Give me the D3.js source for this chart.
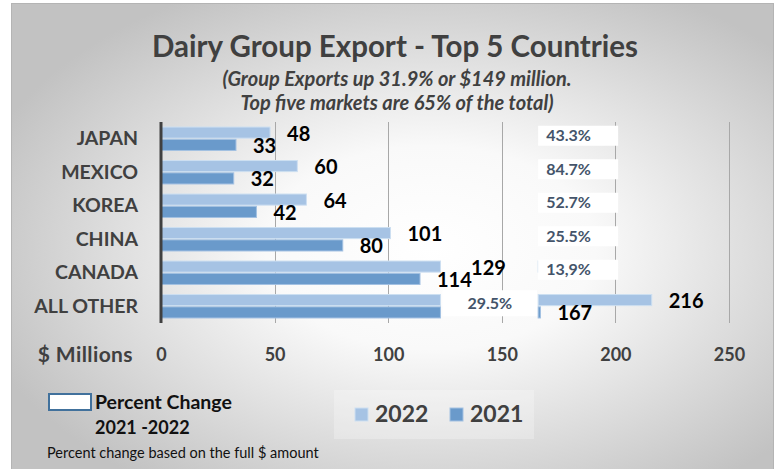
<!DOCTYPE html>
<html>
<head>
<meta charset="utf-8">
<script src="https://cdn.jsdelivr.net/npm/d3@7/dist/d3.min.js"></script>
<style>
  html, body { margin: 0; padding: 0; background: #ffffff; }
  svg { display: block; font-family: Lato, "Open Sans", sans-serif; }
</style>
</head>
<body>
<svg id="chart" width="775" height="469"></svg>
<script>
// Chart values.
const categories  = [ 'JAPAN', 'MEXICO', 'KOREA', 'CHINA', 'CANADA', 'ALL OTHER' ];
const values2022  = [ 48, 60, 64, 101, 129, 216 ];
const values2021  = [ 33, 32, 42, 80, 114, 167 ];
const pctChange   = [ '43.3%', '84.7%', '52.7%', '25.5%', '13,9%', '29.5%' ];
const seriesNames = [ '2022', '2021' ];
const xTicks      = [ 0, 50, 100, 150, 200, 250 ];

// Broken bars: the stretch between these two values is left out.
const BREAK_FROM = 123;
const BREAK_TO   = 166;

const colors = { '2022': '#a6c3e4', '2021': '#6a9acb' };
const strokes = { '2022': '#cddff1', '2021': '#a3c1e2' };
const textDark = '#404040';

const svg = d3.select( '#chart' );

// Background with a soft radial gradient.
const defs = svg.append( 'defs' );
const grad = defs.append( 'radialGradient' )
  .attr( 'id', 'bg' )
  .attr( 'cx', '55%' ).attr( 'cy', '52%' ).attr( 'r', '62%' );
grad.append( 'stop' ).attr( 'offset', '0%'   ).attr( 'stop-color', '#ffffff' );
grad.append( 'stop' ).attr( 'offset', '35%'  ).attr( 'stop-color', '#f9f9f9' );
grad.append( 'stop' ).attr( 'offset', '100%' ).attr( 'stop-color', '#c2c2c2' );

svg.append( 'rect' )
  .attr( 'x', 11.5 ).attr( 'y', 3.5 )
  .attr( 'width', 762 ).attr( 'height', 470 )
  .attr( 'fill', 'url(#bg)' )
  .attr( 'stroke', '#b4b4b4' );

// Title and subtitle.
svg.append( 'text' )
  .attr( 'x', 395 ).attr( 'y', 57 )
  .attr( 'text-anchor', 'middle' )
  .attr( 'fill', textDark )
  .style( 'font-size', '29.5px' ).style( 'font-weight', 700 )
  .text( 'Dairy Group Export - Top 5 Countries' );

svg.append( 'text' )
  .attr( 'x', 397 ).attr( 'y', 86 )
  .attr( 'text-anchor', 'middle' )
  .attr( 'fill', textDark )
  .style( 'font-size', '20px' ).style( 'font-weight', 700 ).style( 'font-style', 'italic' )
  .text( '(Group Exports up 31.9% or $149 million.' );

svg.append( 'text' )
  .attr( 'x', 397 ).attr( 'y', 110 )
  .attr( 'text-anchor', 'middle' )
  .attr( 'fill', textDark )
  .style( 'font-size', '20px' ).style( 'font-weight', 700 ).style( 'font-style', 'italic' )
  .text( 'Top five markets are 65% of the total)' );

// Scales.
const x = d3.scaleLinear( ).domain( [ 0, 250 ] ).range( [ 161, 729 ] );
const y = d3.scaleBand( ).domain( categories ).range( [ 122, 323 ] )
  .paddingInner( 0.3 ).paddingOuter( 0.15 );
const ySub = d3.scaleBand( ).domain( seriesNames ).range( [ 0, y.bandwidth( ) ] ).paddingInner( 0.1 );

// Gridlines.
svg.append( 'g' )
  .selectAll( 'line' )
  .data( xTicks.filter( d => d > 0 ) )
  .join( 'line' )
    .attr( 'x1', d => Math.round( x( d ) ) + 0.5 )
    .attr( 'x2', d => Math.round( x( d ) ) + 0.5 )
    .attr( 'y1', 122 ).attr( 'y2', 323 )
    .attr( 'stroke', '#a8a8a8' );

// Long table of bar segments (one or two per bar).
const rows = [];
categories.forEach( ( c, i ) => {
  [ [ '2022', values2022[i] ], [ '2021', values2021[i] ] ].forEach( ( [ s, v ] ) => {
    const segs = v > BREAK_FROM ? [ [ 0, BREAK_FROM ], [ BREAK_TO, v ] ] : [ [ 0, v ] ];
    segs.forEach( sg => rows.push( { cat: c, series: s, from: sg[0], to: sg[1], value: v } ) );
  } );
} );

svg.append( 'g' )
  .selectAll( 'rect' )
  .data( rows )
  .join( 'rect' )
    .attr( 'x', d => x( d.from ) )
    .attr( 'y', d => y( d.cat ) + ySub( d.series ) )
    .attr( 'width', d => Math.max( 1, x( d.to ) - x( d.from ) ) )
    .attr( 'height', ySub.bandwidth( ) )
    .attr( 'fill', d => colors[ d.series ] )
    .attr( 'stroke', d => strokes[ d.series ] )
    .attr( 'stroke-width', 1 );

// Percent change boxes.
const pctG = svg.append( 'g' );
categories.forEach( ( c, i ) => {
  const cy = y( c ) + y.bandwidth( ) / 2;
  const last = i === categories.length - 1;
  const bx = last ? x( BREAK_FROM ) + 2 : x( BREAK_TO );
  const bw = last ? x( BREAK_TO ) - x( BREAK_FROM ) - 3 : 80;
  const by = last ? cy - 16 : cy - 13;
  const bh = last ? 26 : 20;
  pctG.append( 'rect' )
    .attr( 'x', bx ).attr( 'y', by )
    .attr( 'width', bw ).attr( 'height', bh )
    .attr( 'fill', '#ffffff' );
  pctG.append( 'text' )
    .attr( 'x', last ? bx + bw / 2 : bx + 8 )
    .attr( 'y', by + bh / 2 )
    .attr( 'dy', '0.35em' )
    .attr( 'text-anchor', last ? 'middle' : 'start' )
    .attr( 'fill', '#44546a' )
    .style( 'font-size', '16px' ).style( 'font-weight', 700 )
    .text( pctChange[i] );
} );

// Value labels.
const labels = [];
categories.forEach( ( c, i ) => {
  labels.push( { cat: c, series: '2022', value: values2022[i] } );
  labels.push( { cat: c, series: '2021', value: values2021[i] } );
} );
svg.append( 'g' )
  .selectAll( 'text' )
  .data( labels )
  .join( 'text' )
    .attr( 'x', d => x( d.value ) + 17 )
    .attr( 'y', d => y( d.cat ) + ySub( d.series ) + ySub.bandwidth( ) / 2 + 8 )
    .attr( 'fill', '#000000' )
    .style( 'font-size', '20px' ).style( 'font-weight', 700 )
    .text( d => d.value );

// Category axis.
const yAxis = svg.append( 'g' )
  .attr( 'transform', `translate( ${x( 0 )}, 0 )` )
  .call( d3.axisLeft( y ).tickSize( 0 ).tickPadding( 23 ) );
yAxis.select( '.domain' ).remove( );
yAxis.selectAll( 'text' )
  .attr( 'fill', textDark )
  .style( 'font-family', 'Lato, sans-serif' )
  .style( 'font-size', '19.5px' ).style( 'font-weight', 700 );

svg.append( 'line' )
  .attr( 'x1', x( 0 ) ).attr( 'x2', x( 0 ) )
  .attr( 'y1', 122 ).attr( 'y2', 323 )
  .attr( 'stroke', '#404040' ).attr( 'stroke-width', 3 );

// Value axis at the bottom, labels only.
const xAxis = svg.append( 'g' )
  .attr( 'transform', 'translate( 0, 348 )' )
  .call( d3.axisBottom( x ).tickValues( xTicks ).tickSize( 0 ).tickPadding( 0 ) );
xAxis.select( '.domain' ).remove( );
xAxis.selectAll( 'text' )
  .attr( 'fill', textDark )
  .attr( 'dy', '0.71em' )
  .style( 'font-family', 'Lato, sans-serif' )
  .style( 'font-size', '18px' ).style( 'font-weight', 700 );

svg.append( 'text' )
  .attr( 'x', 133 ).attr( 'y', 362 )
  .attr( 'text-anchor', 'end' )
  .attr( 'fill', textDark )
  .style( 'font-size', '21px' ).style( 'font-weight', 700 )
  .style( 'letter-spacing', '0.4px' )
  .text( '$ Millions' );

// Legend for the percent boxes.
svg.append( 'rect' )
  .attr( 'x', 49 ).attr( 'y', 394 )
  .attr( 'width', 42 ).attr( 'height', 16 )
  .attr( 'fill', '#ffffff' )
  .attr( 'stroke', '#41719c' ).attr( 'stroke-width', 2 );
svg.append( 'text' )
  .attr( 'x', 95 ).attr( 'y', 409 )
  .attr( 'fill', '#111111' )
  .style( 'font-size', '19.5px' ).style( 'font-weight', 700 )
  .text( 'Percent Change' );
svg.append( 'text' )
  .attr( 'x', 95 ).attr( 'y', 434 )
  .attr( 'fill', '#111111' )
  .style( 'font-size', '18px' ).style( 'font-weight', 700 )
  .text( '2021 -2022' );
svg.append( 'text' )
  .attr( 'x', 47 ).attr( 'y', 458 )
  .attr( 'fill', '#111111' )
  .style( 'font-size', '14.5px' )
  .text( 'Percent change based on the full $ amount' );

// Series legend.
svg.append( 'rect' )
  .attr( 'x', 334 ).attr( 'y', 390 )
  .attr( 'width', 200 ).attr( 'height', 49 )
  .attr( 'fill', '#ffffff' ).attr( 'fill-opacity', 0.25 );
const leg = svg.append( 'g' )
  .selectAll( 'g' )
  .data( seriesNames )
  .join( 'g' )
    .attr( 'transform', ( d, i ) => `translate( ${355 + i * 95}, 408 )` );
leg.append( 'rect' )
  .attr( 'width', 13 ).attr( 'height', 13 )
  .attr( 'fill', d => colors[ d ] )
  .attr( 'stroke', d => strokes[ d ] );
leg.append( 'text' )
  .attr( 'x', 20 ).attr( 'y', 14 )
  .attr( 'fill', textDark )
  .style( 'font-size', '23px' ).style( 'font-weight', 700 )
  .text( d => d );
</script>
</body>
</html>
